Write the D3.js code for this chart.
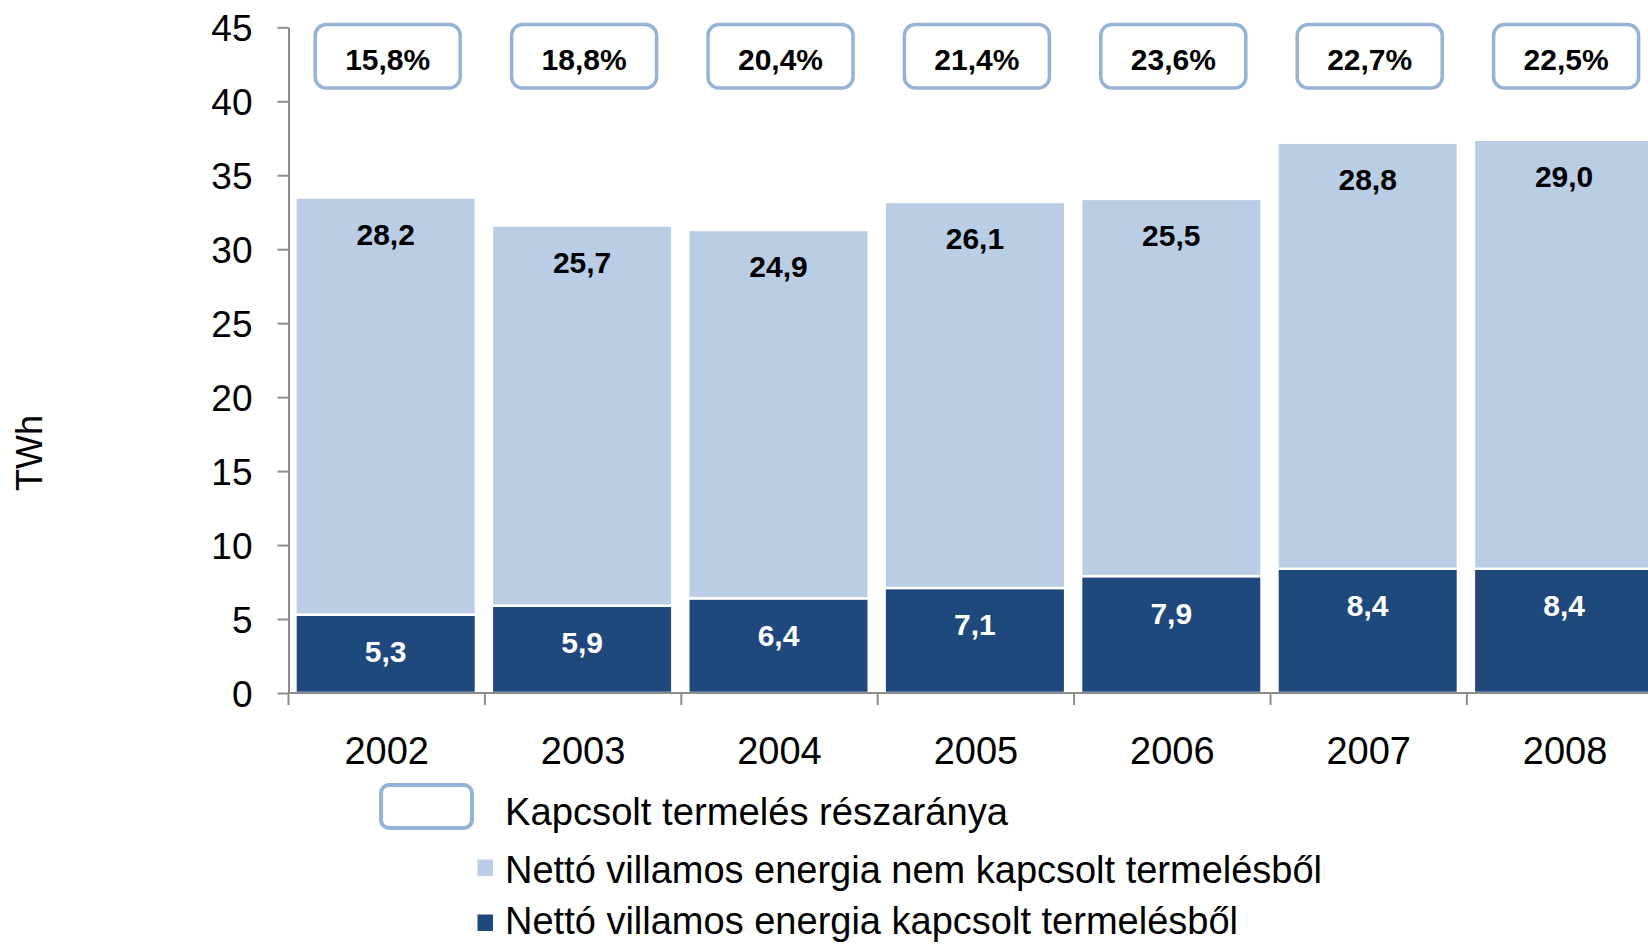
<!doctype html>
<html lang="hu">
<head>
    <meta charset="utf-8">
    <title></title>
    <script src="https://d3js.org/d3.v7.min.js"></script>
    <style type="text/css">
    body { margin: 0; background: #fff; }
    text { font-family: "Liberation Sans", Arial, sans-serif; }
    .axis path, .axis line { stroke: #8c8c8c; stroke-width: 2; }
    </style>
</head>

<body>
</body>

<script type="text/javascript">

    // chart values
    var years    = ["2002", "2003", "2004", "2005", "2006", "2007", "2008"];
    var cogen    = [5.3, 5.9, 6.4, 7.1, 7.9, 8.4, 8.4];
    var nonCogen = [28.2, 25.7, 24.9, 26.1, 25.5, 28.8, 29.0];
    var shares   = ["15,8%", "18,8%", "20,4%", "21,4%", "23,6%", "22,7%", "22,5%"];
    var yTicks   = [0, 5, 10, 15, 20, 25, 30, 35, 40, 45];
    var legendLabels = ["Kapcsolt termelés részaránya",
                        "Nettó villamos energia nem kapcsolt termelésből",
                        "Nettó villamos energia kapcsolt termelésből"];

    var width = 1648, height = 945;
    var x0 = 288.5, step = 196.4;
    var light = "#b9cde5", dark = "#1f497d", boxBlue = "#95b3d7";

    var hu = d3.formatLocale({decimal: ",", thousands: " ", grouping: [3], currency: ["", " Ft"]});
    var fmt = hu.format(".1f");

    var xScale = d3.scaleBand()
                .domain(years)
                .range([x0, x0 + step * years.length])
                .padding(0);

    var yScale = d3.scaleLinear()
                  .domain([0, 45])
                  .range([693, 27.3]);

    var barW = 180.5;
    var barX = d => xScale(d) + (xScale.bandwidth() - barW) / 2 - 1;

    var svg = d3.select("body")
    .append("svg")
    .attr("width", width)
    .attr("height", height);

    var data = years.map((y, i) => ({year: y, cogen: cogen[i], non: nonCogen[i], share: shares[i]}));

    // dark segment (kapcsolt)
    svg.selectAll(".dark")
    .data(data)
    .enter()
    .append("rect")
    .attr("class", "dark")
    .attr("x", d => barX(d.year))
    .attr("y", d => yScale(d.cogen))
    .attr("width", barW)
    .attr("height", d => yScale(0) - yScale(d.cogen))
    .attr("fill", dark)
    .attr("stroke", "#fff")
    .attr("stroke-width", 2.5);

    // light segment (nem kapcsolt)
    svg.selectAll(".light")
    .data(data)
    .enter()
    .append("rect")
    .attr("class", "light")
    .attr("x", d => barX(d.year))
    .attr("y", d => yScale(d.cogen + d.non))
    .attr("width", barW)
    .attr("height", d => yScale(d.cogen) - yScale(d.cogen + d.non))
    .attr("fill", light)
    .attr("stroke", "#fff")
    .attr("stroke-width", 2.5);

    // value labels, near the top of each segment
    svg.selectAll(".lblDark")
    .data(data)
    .enter()
    .append("text")
    .attr("x", d => xScale(d.year) + xScale.bandwidth() / 2 - 1)
    .attr("y", d => yScale(d.cogen) + 47.5)
    .attr("text-anchor", "middle")
    .style("font-size", "30px")
    .style("font-weight", "bold")
    .attr("fill", "#fff")
    .text(d => fmt(d.cogen));

    svg.selectAll(".lblLight")
    .data(data)
    .enter()
    .append("text")
    .attr("x", d => xScale(d.year) + xScale.bandwidth() / 2 - 1)
    .attr("y", d => yScale(d.cogen + d.non) + 47.5)
    .attr("text-anchor", "middle")
    .style("font-size", "30px")
    .style("font-weight", "bold")
    .attr("fill", "#000")
    .text(d => fmt(d.non));

    // share boxes at the top
    var boxes = svg.selectAll(".share")
    .data(data)
    .enter()
    .append("g")
    .attr("transform", d => "translate(" + (xScale(d.year) + xScale.bandwidth() / 2 + 1) + ",0)");

    boxes.append("rect")
    .attr("x", -72.5)
    .attr("y", 24.5)
    .attr("width", 145)
    .attr("height", 63.5)
    .attr("rx", 11)
    .attr("fill", "#fff")
    .attr("stroke", boxBlue)
    .attr("stroke-width", 3.5);

    boxes.append("text")
    .attr("y", 70)
    .attr("text-anchor", "middle")
    .style("font-size", "30px")
    .style("font-weight", "bold")
    .text(d => d.share);

    // y axis
    svg.append("g")
    .attr("class", "axis")
    .attr("transform", "translate(" + x0 + ",0)")
    .call(d3.axisLeft(yScale).tickValues(yTicks).tickSize(11).tickSizeOuter(0).tickPadding(25))
    .call(g => g.selectAll("text").style("font-size", "37px").attr("fill", "#000").attr("dy", "0.36em"));

    // x axis: baseline with ticks at the band boundaries
    var xAxis = svg.append("g").attr("class", "axis");
    xAxis.append("line")
    .attr("x1", x0).attr("x2", width)
    .attr("y1", yScale(0)).attr("y2", yScale(0));

    xAxis.selectAll(".tick")
    .data(years)
    .enter()
    .append("line")
    .attr("x1", d => xScale(d)).attr("x2", d => xScale(d))
    .attr("y1", yScale(0)).attr("y2", yScale(0) + 12);

    xAxis.selectAll(".year")
    .data(years)
    .enter()
    .append("text")
    .attr("x", d => xScale(d) + xScale.bandwidth() / 2)
    .attr("y", 764)
    .attr("text-anchor", "middle")
    .style("font-size", "38px")
    .attr("fill", "#000")
    .text(d => d);

    // y title
    svg.append("text")
    .attr("transform", "translate(42,453) rotate(-90)")
    .attr("text-anchor", "middle")
    .style("font-size", "36px")
    .text("TWh");

    // legend
    var lg = svg.append("g");
    lg.append("rect")
    .attr("x", 381).attr("y", 785)
    .attr("width", 91).attr("height", 43)
    .attr("rx", 8)
    .attr("fill", "#fff")
    .attr("stroke", boxBlue)
    .attr("stroke-width", 4);

    lg.append("rect")
    .attr("x", 477.5).attr("y", 859.5)
    .attr("width", 15.5).attr("height", 16.5)
    .attr("fill", light);

    lg.append("rect")
    .attr("x", 477.5).attr("y", 914.5)
    .attr("width", 15.5).attr("height", 16.5)
    .attr("fill", dark);

    var legendY = [825, 883, 934];
    var legendW = [503, 817, 733];
    lg.selectAll(".lgText")
    .data(legendLabels)
    .enter()
    .append("text")
    .attr("x", 505)
    .attr("y", (d, i) => legendY[i])
    .attr("textLength", (d, i) => legendW[i])
    .attr("lengthAdjust", "spacingAndGlyphs")
    .style("font-size", "38px")
    .text(d => d);

</script>
</html>
